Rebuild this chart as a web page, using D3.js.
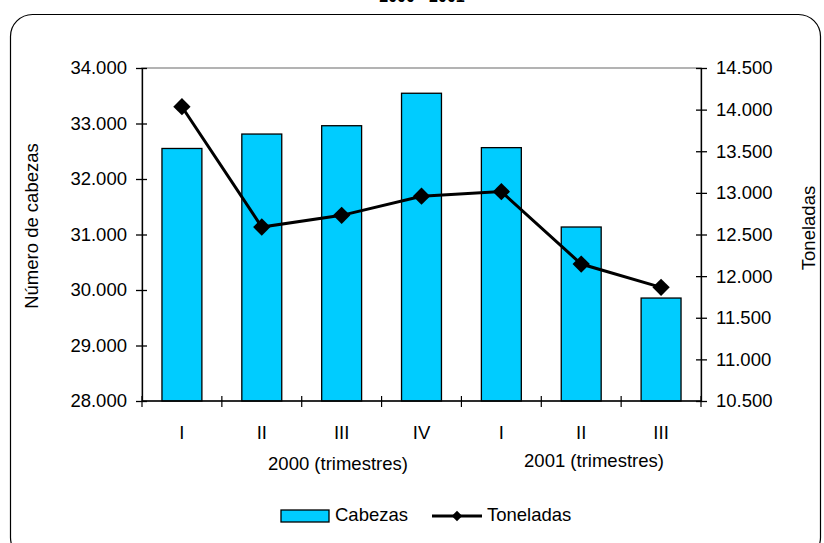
<!DOCTYPE html>
<html>
<head>
<meta charset="utf-8">
<script src="https://cdn.jsdelivr.net/npm/d3@7"></script>
<style>
  body { margin: 0; background: #fff; }
  svg { display: block; font-family: "Liberation Sans", Arial, sans-serif; }
</style>
</head>
<body>
<div id="chart"></div>
<script>
// Data
const categories = ['I', 'II', 'III', 'IV', 'I', 'II', 'III'];
const cabezas = [32550, 32810, 32960, 33545, 32565, 31135, 29855];
const toneladas = [14035, 12590, 12730, 12960, 13015, 12145, 11865];
const leftTicks = [28000, 29000, 30000, 31000, 32000, 33000, 34000];
const rightTicks = [10500, 11000, 11500, 12000, 12500, 13000, 13500, 14000, 14500];
const groupLabels = ['2000 (trimestres)', '2001 (trimestres)'];

const W = 824, H = 543;
const margin = { top: 68, right: 123, bottom: 142, left: 142 };
const width = W - margin.left - margin.right;
const height = H - margin.top - margin.bottom;
const fs = '18.5px';

const svg = d3.select('#chart').append('svg')
    .attr('width', W)
    .attr('height', H);

// Outer rounded frame (bottom edge runs off the picture)
svg.append('rect')
    .attr('x', 10.5).attr('y', 14.5)
    .attr('width', 810).attr('height', 545)
    .attr('rx', 22).attr('ry', 22)
    .attr('fill', 'none')
    .attr('stroke', '#000')
    .attr('stroke-width', 1.2);

// Title, mostly cut off at the top as in the reference
svg.append('text')
    .attr('x', 422).attr('y', 2)
    .attr('text-anchor', 'middle')
    .style('font-size', '16px')
    .style('font-weight', 'bold')
    .text('2000 - 2001');

const g = svg.append('g')
    .attr('transform', `translate(${margin.left},${margin.top})`);

// Scales
const x = d3.scaleBand()
    .domain(d3.range(categories.length))
    .range([0, width])
    .paddingInner(0.5)
    .paddingOuter(0.25);

const yLeft = d3.scaleLinear().domain([28000, 34000]).range([height, 0]);
const yRight = d3.scaleLinear().domain([10500, 14500]).range([height, 0]);

const fmt = d => d3.format(',')(d).replace(/,/g, '.');

// Plot area border (grey)
g.append('rect')
    .attr('x', 0).attr('y', 0)
    .attr('width', width).attr('height', height)
    .attr('fill', 'none')
    .attr('stroke', '#9a9a9a')
    .attr('stroke-width', 1.5);

// Bars
g.selectAll('.bar')
    .data(cabezas)
    .enter()
    .append('rect')
    .attr('class', 'bar')
    .attr('x', (d, i) => x(i))
    .attr('y', d => yLeft(d))
    .attr('width', x.bandwidth())
    .attr('height', d => height - yLeft(d))
    .attr('fill', '#00CCFF')
    .attr('stroke', '#000')
    .attr('stroke-width', 1.3);

// Left axis
const axisLeft = g.append('g')
    .call(d3.axisLeft(yLeft).tickValues(leftTicks).tickFormat(fmt).tickSizeInner(6).tickSizeOuter(0));
axisLeft.select('.domain').attr('stroke', '#000').attr('stroke-width', 1.3);
axisLeft.selectAll('.tick line').attr('x2', 5).attr('x1', -6).attr('stroke-width', 1.3);
axisLeft.selectAll('.tick text')
    .attr('x', -15)
    .style('font-size', fs)
    .style('font-family', '"Liberation Sans", Arial, sans-serif')
    .attr('fill', '#000');

// Right axis
const axisRight = g.append('g')
    .attr('transform', `translate(${width},0)`)
    .call(d3.axisRight(yRight).tickValues(rightTicks).tickFormat(fmt).tickSizeInner(6).tickSizeOuter(0));
axisRight.select('.domain').attr('stroke', '#000').attr('stroke-width', 1.3);
axisRight.selectAll('.tick line').attr('x1', -5).attr('x2', 6).attr('stroke-width', 1.3);
axisRight.selectAll('.tick text')
    .attr('x', 15)
    .style('font-size', fs)
    .style('font-family', '"Liberation Sans", Arial, sans-serif')
    .attr('fill', '#000');

// Bottom axis: ticks at category boundaries, labels at centres
const bounds = d3.range(categories.length + 1).map(i => i * x.step());
g.append('line')
    .attr('x1', 0).attr('x2', width)
    .attr('y1', height).attr('y2', height)
    .attr('stroke', '#000').attr('stroke-width', 1.3);
g.selectAll('.xtick')
    .data(bounds)
    .enter()
    .append('line')
    .attr('class', 'xtick')
    .attr('x1', d => d).attr('x2', d => d)
    .attr('y1', height - 5).attr('y2', height + 6)
    .attr('stroke', '#000').attr('stroke-width', 1.2);
g.selectAll('.xlabel')
    .data(categories)
    .enter()
    .append('text')
    .attr('class', 'xlabel')
    .attr('x', (d, i) => x(i) + x.bandwidth() / 2)
    .attr('y', height + 38)
    .attr('text-anchor', 'middle')
    .style('font-size', fs)
    .text(d => d);

// Year group labels
const groupX = [338, 594];
const groupY = [470, 467];
svg.selectAll('.group')
    .data(groupLabels)
    .enter()
    .append('text')
    .attr('class', 'group')
    .attr('x', (d, i) => groupX[i])
    .attr('y', (d, i) => groupY[i])
    .attr('text-anchor', 'middle')
    .style('font-size', fs)
    .text(d => d);

// Line series
const line = d3.line()
    .x((d, i) => x(i) + x.bandwidth() / 2)
    .y(d => yRight(d));

g.append('path')
    .datum(toneladas)
    .attr('fill', 'none')
    .attr('stroke', '#000')
    .attr('stroke-width', 3)
    .attr('d', line);

const diamond = d3.symbol().type(d3.symbolSquare).size(150);
g.selectAll('.marker')
    .data(toneladas)
    .enter()
    .append('path')
    .attr('class', 'marker')
    .attr('d', diamond)
    .attr('transform', (d, i) => `translate(${x(i) + x.bandwidth() / 2},${yRight(d)}) rotate(45)`)
    .attr('fill', '#000');

// Axis titles
svg.append('text')
    .attr('transform', 'translate(38,226) rotate(-90)')
    .attr('text-anchor', 'middle')
    .style('font-size', fs)
    .text('Número de cabezas');

svg.append('text')
    .attr('transform', 'translate(815,228) rotate(-90)')
    .attr('text-anchor', 'middle')
    .style('font-size', fs)
    .text('Toneladas');

// Legend
const legend = svg.append('g').attr('transform', 'translate(281,510)');
legend.append('rect')
    .attr('x', 0).attr('y', 0)
    .attr('width', 48).attr('height', 12)
    .attr('fill', '#00CCFF')
    .attr('stroke', '#000')
    .attr('stroke-width', 1.3);
legend.append('text')
    .attr('x', 54).attr('y', 11)
    .style('font-size', fs)
    .text('Cabezas');
legend.append('line')
    .attr('x1', 151).attr('x2', 201)
    .attr('y1', 6).attr('y2', 6)
    .attr('stroke', '#000').attr('stroke-width', 3);
legend.append('path')
    .attr('d', d3.symbol().type(d3.symbolSquare).size(55))
    .attr('transform', 'translate(176,6) rotate(45)')
    .attr('fill', '#000');
legend.append('text')
    .attr('x', 206).attr('y', 11)
    .style('font-size', fs)
    .text('Toneladas');
</script>
</body>
</html>
